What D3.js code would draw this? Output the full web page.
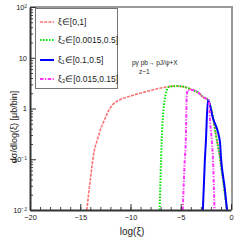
<!DOCTYPE html>
<html>
<head>
<meta charset="utf-8">
<script src="https://cdn.jsdelivr.net/npm/d3@7"></script>
<style>
  body { margin: 0; background: #fff; }
  text { font-family: "Liberation Sans", Arial, sans-serif; fill: #222; }
</style>
</head>
<body>
<div id="chart"></div>
<script>
// log(xi) vs d sigma / d log(xi)
const xiAll = [[-14.35, 0.01], [-14.0, 0.039], [-13.6, 0.15], [-13.3, 0.24], [-13.0, 0.38],
  [-12.6, 0.59], [-12.2, 0.89], [-11.8, 1.17], [-11.1, 1.47], [-10.0, 1.76], [-8.6, 2.11],
  [-7.1, 2.51], [-5.4, 2.77], [-4.6, 2.65], [-3.8, 2.31], [-3.2, 2.02], [-2.8, 1.69],
  [-2.3, 1.47], [-1.9, 0.85], [-1.5, 0.30], [-1.1, 0.106], [-0.8, 0.039], [-0.4, 0.01]];
const xi2 = [[-7.1, 0.01], [-6.9, 0.22], [-6.6, 1.47], [-6.2, 2.65], [-5.4, 2.77], [-4.6, 2.65],
  [-3.8, 2.31], [-3.2, 2.02], [-2.8, 1.69], [-2.3, 1.47], [-1.9, 0.85], [-1.5, 0.30],
  [-1.1, 0.106], [-0.8, 0.039], [-0.4, 0.01]];
const xi1 = [[-2.8, 0.01], [-2.6, 0.097], [-2.5, 0.22], [-2.3, 1.47], [-1.8, 0.65],
  [-1.1, 0.22], [-1.0, 0.11], [-0.6, 0.025], [-0.4, 0.01]];
const xi3 = [[-4.8, 0.01], [-4.6, 0.097], [-4.5, 0.22], [-4.4, 1.85], [-4.3, 2.3],
  [-3.8, 2.31], [-3.2, 2.02], [-2.8, 1.69], [-2.2, 1.45], [-2.1, 0.65], [-1.9, 0.22],
  [-1.8, 0.11], [-1.65, 0.01]];

const legendLabels = ["ξ∈[0,1]", "ξ₂∈[0.0015,0.5]", "ξ₁∈[0.1,0.5]", "ξ₃∈[0.015,0.15]"];
const xTicks = [-20, -15, -10, -5, 0];
const yTicks = [0.01, 0.1, 1, 10, 100];
const yTickLabels = ["10⁻²", "10⁻¹", "1", "10", "10²"];

const width = 240, height = 240;
const mLeft = 30, mRight = 231, mTop = 7, mBottom = 210;

const svg = d3.select("#chart").append("svg")
  .attr("width", width)
  .attr("height", height);

const x = d3.scaleLinear().domain([-20, 0]).range([mLeft, mRight]);
const y = d3.scaleLog().domain([0.01, 100]).range([mBottom, mTop]);

svg.append("clipPath").attr("id", "clip")
  .append("rect")
  .attr("x", mLeft).attr("y", mTop)
  .attr("width", mRight - mLeft).attr("height", mBottom - mTop);

// frame, top and right sides
svg.append("path")
  .attr("d", `M${mLeft},${mTop}H${mRight + 1}V${mBottom}`)
  .attr("fill", "none")
  .attr("stroke", "#999")
  .attr("stroke-width", 2);

// curves
let line = d3.line()
  .x(d => x(d[0]))
  .y(d => y(d[1]))
  .curve(d3.curveMonotoneX);

const series = [
  {data: xiAll, color: "#ff7070", width: 1.6, dash: "3,1.2"},
  {data: xi2, color: "#00e600", width: 2, dash: "1.5,1.5"},
  {data: xi1, color: "#0000ff", width: 2, dash: null},
  {data: xi3, color: "#ff33ff", width: 2, dash: "3.5,1.5,1.2,1.5"}
];

let plot = svg.append("g").attr("clip-path", "url(#clip)");
plot.selectAll("path.curve")
  .data(series)
  .enter()
  .append("path")
  .attr("class", "curve")
  .attr("d", d => line(d.data))
  .attr("fill", "none")
  .attr("stroke", d => d.color)
  .attr("stroke-width", d => d.width)
  .attr("stroke-dasharray", d => d.dash);

// x axis
let xMinor = d3.range(-20, 1, 1);
svg.append("g")
  .attr("transform", `translate(0,${mBottom})`)
  .call(d3.axisBottom(x).tickValues(xMinor).tickSize(-3).tickFormat(""))
  .call(g => g.select(".domain").remove())
  .selectAll("line").attr("stroke", "#444");

let xAxis = svg.append("g")
  .attr("transform", `translate(0,${mBottom})`)
  .call(d3.axisBottom(x).tickValues(xTicks).tickSize(-6).tickPadding(5).tickSizeOuter(0));
xAxis.select(".domain").attr("stroke", "#333").attr("stroke-width", 2);
xAxis.selectAll("line").attr("stroke", "#333");
xAxis.selectAll("text").attr("font-size", 7.5).attr("fill", "#222");

// y axis
let yMinor = [];
[0.01, 0.1, 1, 10].forEach(p => d3.range(2, 10).forEach(k => yMinor.push(p * k)));
svg.append("g")
  .attr("transform", `translate(${mLeft},0)`)
  .call(d3.axisLeft(y).tickValues(yMinor).tickSize(-3).tickFormat(""))
  .call(g => g.select(".domain").remove())
  .selectAll("line").attr("stroke", "#444");

let yAxis = svg.append("g")
  .attr("transform", `translate(${mLeft},0)`)
  .call(d3.axisLeft(y).tickValues(yTicks).tickSize(-6).tickPadding(3).tickSizeOuter(0)
    .tickFormat((d, i) => yTickLabels[i]));
yAxis.select(".domain").attr("stroke", "#333").attr("stroke-width", 2);
yAxis.selectAll("line").attr("stroke", "#333");
yAxis.selectAll("text").attr("font-size", 7.5).attr("fill", "#222");

// axis titles
svg.append("text")
  .attr("transform", "translate(17,127) rotate(-90)")
  .attr("text-anchor", "middle")
  .attr("font-size", 9)
  .text("dσ/dlog(ξ) [μb/bin]");

svg.append("text")
  .attr("x", 132).attr("y", 235)
  .attr("text-anchor", "middle")
  .attr("font-size", 10)
  .text("log(ξ)");

// annotation
svg.append("text")
  .attr("x", 132).attr("y", 65)
  .attr("font-size", 6.5)
  .text("pγ pb→ pJ/ψ+X");
svg.append("text")
  .attr("x", 139).attr("y", 74)
  .attr("font-size", 6.5)
  .text("z~1");

// legend
let legend = svg.append("g");
legend.append("rect")
  .attr("x", 35.5).attr("y", 8.5)
  .attr("width", 82).attr("height", 80)
  .attr("fill", "#fff")
  .attr("stroke", "#777");

let entry = legend.selectAll("g.entry")
  .data(series)
  .enter()
  .append("g")
  .attr("class", "entry")
  .attr("transform", (d, i) => `translate(0,${[22, 40, 60, 79][i]})`);

entry.append("line")
  .attr("x1", 40).attr("x2", 54)
  .attr("stroke", d => d.color)
  .attr("stroke-width", d => d.width)
  .attr("stroke-dasharray", d => d.dash);

entry.append("text")
  .attr("x", 58).attr("dy", "0.35em")
  .attr("font-size", 8.5)
  .text((d, i) => legendLabels[i]);
</script>
</body>
</html>
